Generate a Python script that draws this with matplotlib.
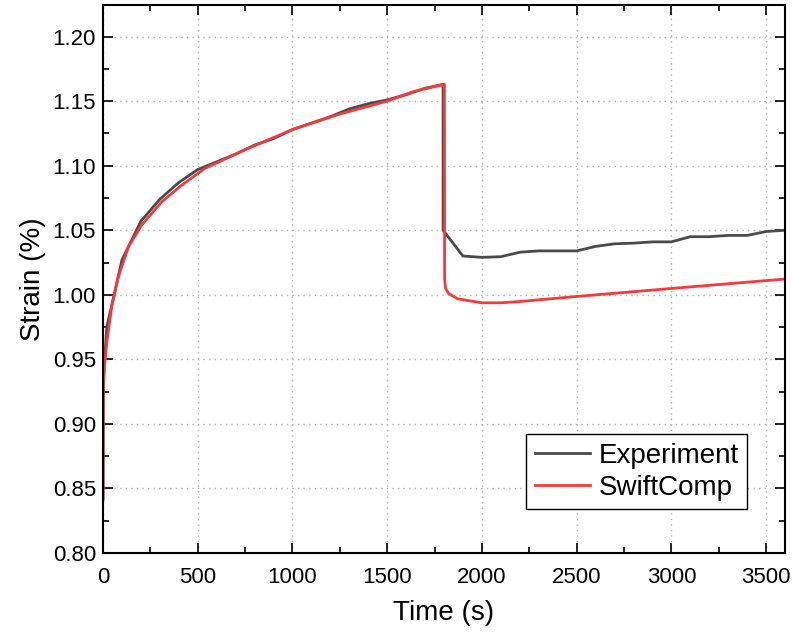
import matplotlib
matplotlib.use("Agg")
import matplotlib.pyplot as plt
from matplotlib.ticker import MultipleLocator

plt.rcParams['font.family'] = ['Liberation Sans', 'DejaVu Sans']

# Experiment (roughly every 100 s)
exp_time = [0, 2, 20, 100, 200, 300, 400, 500, 600, 700, 800, 900, 1000,
            1100, 1200, 1300, 1400, 1500, 1600, 1700, 1795, 1795, 1900,
            2000, 2100, 2200, 2300, 2400, 2500, 2600, 2700, 2800, 2900,
            3000, 3100, 3200, 3300, 3400, 3500, 3600]
exp_strain = [0.842, 0.935, 0.975, 1.027, 1.057, 1.074, 1.087, 1.097, 1.103,
              1.109, 1.116, 1.121, 1.128, 1.133, 1.138, 1.144, 1.148, 1.151,
              1.155, 1.160, 1.163, 1.050, 1.030, 1.029, 1.0295, 1.033,
              1.034, 1.034, 1.034, 1.0375, 1.0395, 1.040, 1.041, 1.041,
              1.045, 1.045, 1.046, 1.046, 1.049, 1.050]

# SwiftComp model
sc_time = [0, 1, 3, 8, 20, 46, 81, 134, 204, 310, 416, 539, 760, 1000,
           1250, 1500, 1640, 1802, 1803, 1808, 1824, 1870, 1923, 2000,
           2100, 2200, 2500, 3000, 3600]
sc_strain = [0.841, 0.905, 0.930, 0.945, 0.963, 0.991, 1.014, 1.037, 1.054,
             1.072, 1.085, 1.098, 1.113, 1.128, 1.140, 1.150, 1.1575, 1.163,
             1.012, 1.005, 1.001, 0.997, 0.9956, 0.9938, 0.9938, 0.9948,
             0.9987, 1.0049, 1.0122]

fig = plt.figure(figsize=(7.93, 6.37), dpi=100)
ax = fig.add_axes([0.1299, 0.1319, 0.8601, 0.8603])

ax.plot(exp_time, exp_strain, color='#4a4a4a', lw=2, label='Experiment')
ax.plot(sc_time, sc_strain, color='#f03c3c', lw=2, label='SwiftComp')

ax.set_xlim(0, 3600)
ax.set_ylim(0.80, 1.2245)
ax.xaxis.set_major_locator(MultipleLocator(500))
ax.xaxis.set_minor_locator(MultipleLocator(250))
ax.yaxis.set_major_locator(MultipleLocator(0.05))
ax.yaxis.set_minor_locator(MultipleLocator(0.025))
ax.yaxis.set_major_formatter(matplotlib.ticker.FormatStrFormatter('%.2f'))

ax.tick_params(which='both', direction='in', top=True, right=True,
               labelsize=16, width=1.2)
ax.tick_params(axis='x', pad=10)
ax.tick_params(axis='y', pad=5)
ax.tick_params(which='major', length=7.5)
ax.tick_params(which='minor', length=4)
for sp in ax.spines.values():
    sp.set_linewidth(1.5)

ax.grid(True, which='major', linestyle=(0, (1, 3)), color='#b0b0b0', lw=1)

ax.set_xlabel('Time (s)', fontsize=20, labelpad=9)
ax.set_ylabel('Strain (%)', fontsize=20, labelpad=5)

leg = ax.legend(loc='lower right', bbox_to_anchor=(0.944, 0.080),
                borderaxespad=0, fontsize=20, fancybox=False,
                edgecolor='black', framealpha=1, handlelength=2.0,
                handletextpad=0.3, labelspacing=0.22, borderpad=0.3)
leg.get_frame().set_linewidth(1.0)

fig.savefig('out.png', dpi=100)
